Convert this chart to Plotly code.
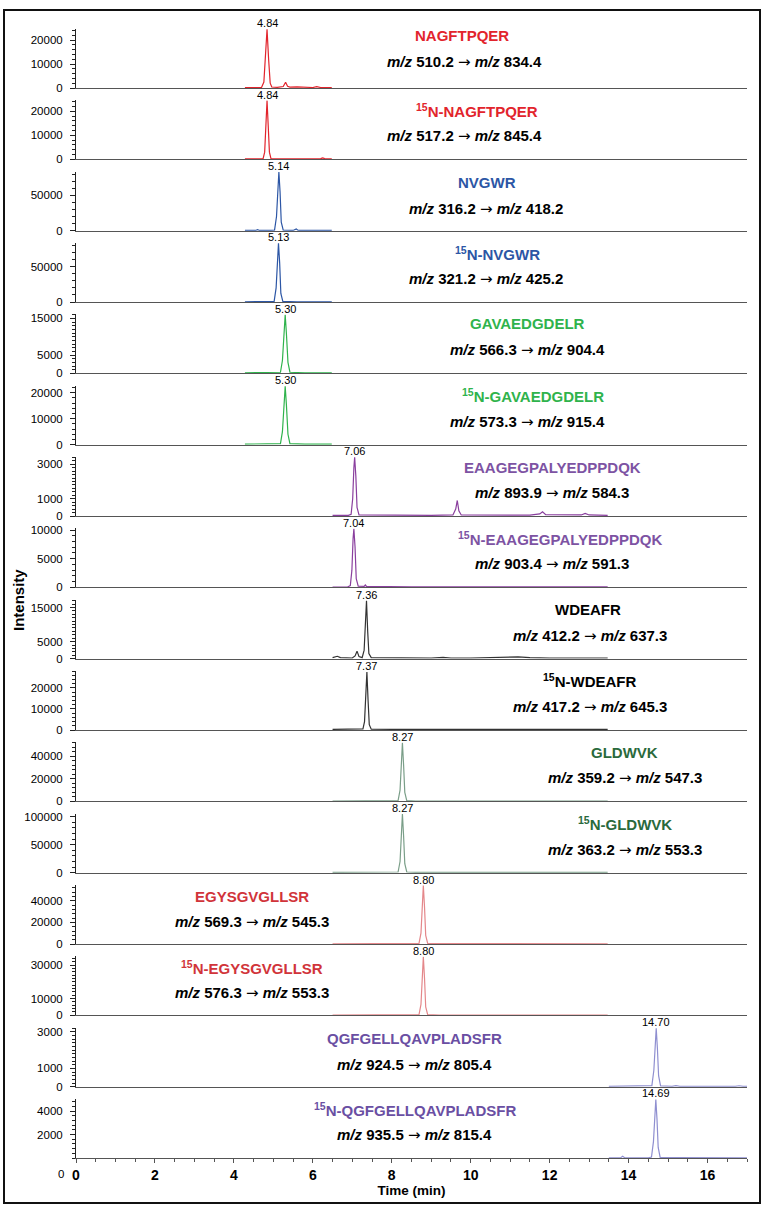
import plotly.graph_objects as go

# ---------------- data ----------------
peptides = ["NAGFTPQER", "<sup>15</sup>N-NAGFTPQER", "NVGWR", "<sup>15</sup>N-NVGWR",
            "GAVAEDGDELR", "<sup>15</sup>N-GAVAEDGDELR", "EAAGEGPALYEDPPDQK",
            "<sup>15</sup>N-EAAGEGPALYEDPPDQK", "WDEAFR", "<sup>15</sup>N-WDEAFR",
            "GLDWVK", "<sup>15</sup>N-GLDWVK", "EGYSGVGLLSR", "<sup>15</sup>N-EGYSGVGLLSR",
            "QGFGELLQAVPLADSFR", "<sup>15</sup>N-QGFGELLQAVPLADSFR"]
precursor_mz = ["510.2", "517.2", "316.2", "321.2", "566.3", "573.3", "893.9", "903.4",
                "412.2", "417.2", "359.2", "363.2", "569.3", "576.3", "924.5", "935.5"]
product_mz = ["834.4", "845.4", "418.2", "425.2", "904.4", "915.4", "584.3", "591.3",
              "637.3", "645.3", "547.3", "553.3", "545.3", "553.3", "805.4", "815.4"]
peak_rt = [4.84, 4.84, 5.14, 5.13, 5.30, 5.30, 7.06, 7.04, 7.36, 7.37, 8.27, 8.27, 8.80, 8.80, 14.70, 14.69]
peak_height = [24500, 24500, 83000, 83000, 16000, 22500, 3400, 10200, 17000, 27500, 52000, 105000, 54000, 35000, 3200, 5000]

t01 = [4.28, 4.5, 4.70, 4.76, 4.80, 4.84, 4.88, 4.92, 4.96, 5.1, 5.25, 5.31, 5.36, 5.42, 5.6, 5.8, 6.0, 6.1, 6.2, 6.48]
i01 = [150, 150, 200, 2500, 14000, 24500, 12000, 2000, 400, 300, 600, 2400, 700, 400, 500, 300, 200, 600, 200, 150]
t02 = [4.28, 4.6, 4.74, 4.78, 4.81, 4.84, 4.87, 4.90, 4.94, 5.2, 5.6, 6.0, 6.2, 6.25, 6.3, 6.48]
i02 = [150, 150, 300, 3000, 15000, 24500, 14000, 3000, 300, 200, 200, 200, 300, 600, 300, 200]
t03 = [4.28, 4.55, 4.60, 4.65, 4.9, 5.03, 5.08, 5.11, 5.14, 5.17, 5.20, 5.25, 5.5, 5.58, 5.62, 5.66, 6.0, 6.48]
i03 = [300, 300, 1500, 300, 300, 800, 20000, 60000, 83000, 55000, 12000, 800, 300, 2500, 600, 300, 300, 300]
t04 = [4.28, 4.9, 5.02, 5.07, 5.10, 5.13, 5.16, 5.19, 5.24, 5.6, 6.48]
i04 = [300, 300, 800, 20000, 60000, 83000, 55000, 12000, 800, 300, 300]
t05 = [4.28, 5.0, 5.18, 5.23, 5.27, 5.30, 5.33, 5.37, 5.42, 5.8, 6.48]
i05 = [150, 150, 300, 3500, 12000, 16000, 11000, 3000, 300, 150, 150]
t06 = [4.28, 5.0, 5.18, 5.23, 5.27, 5.30, 5.33, 5.37, 5.42, 5.8, 6.48]
i06 = [200, 200, 400, 5000, 17000, 22500, 15500, 4000, 400, 200, 200]
t07 = [6.5, 6.9, 6.97, 7.01, 7.04, 7.06, 7.09, 7.12, 7.17, 8.0, 9.0, 9.55, 9.62, 9.66, 9.70, 9.76,
       10.5, 11.5, 11.75, 11.82, 11.9, 12.5, 12.8, 12.9, 13.0, 13.47]
i07 = [40, 40, 100, 1000, 2800, 3400, 2300, 500, 60, 40, 40, 60, 400, 900, 300, 60,
       40, 50, 120, 250, 80, 50, 60, 150, 60, 40]
t08 = [6.5, 6.88, 6.95, 6.99, 7.02, 7.04, 7.07, 7.10, 7.15, 7.3, 7.33, 7.36, 8.5, 10.5, 11.7, 11.8, 11.9, 13.47]
i08 = [60, 60, 300, 3000, 8500, 10200, 7000, 1500, 200, 150, 400, 150, 100, 100, 100, 180, 100, 80]
t09 = [6.5, 6.55, 6.62, 6.7, 7.0, 7.07, 7.12, 7.17, 7.25, 7.30, 7.33, 7.36, 7.39, 7.42, 7.48,
       8.0, 9.0, 9.3, 9.5, 10.0, 11.0, 11.2, 11.5, 12.0, 13.47]
i09 = [300, 400, 700, 300, 200, 800, 2200, 600, 300, 2500, 11000, 17000, 8000, 1500, 300,
       200, 200, 400, 200, 200, 300, 500, 300, 200, 200]
t10 = [6.5, 7.0, 7.2, 7.27, 7.31, 7.34, 7.37, 7.40, 7.43, 7.48, 8.0, 13.47]
i10 = [300, 300, 300, 500, 4000, 16000, 27500, 14000, 2500, 400, 300, 300]
t11 = [6.5, 8.0, 8.16, 8.21, 8.24, 8.27, 8.30, 8.33, 8.38, 8.6, 13.47]
i11 = [200, 200, 600, 10000, 36000, 52000, 32000, 8000, 600, 300, 200]
t12 = [6.5, 8.0, 8.16, 8.21, 8.24, 8.27, 8.30, 8.33, 8.38, 8.6, 13.47]
i12 = [400, 400, 1200, 20000, 72000, 105000, 65000, 16000, 1200, 500, 400]
t13 = [6.5, 8.5, 8.69, 8.74, 8.77, 8.80, 8.83, 8.86, 8.91, 9.2, 13.47]
i13 = [200, 200, 600, 10000, 38000, 54000, 34000, 8000, 600, 300, 200]
t14 = [6.5, 8.5, 8.69, 8.74, 8.77, 8.80, 8.83, 8.86, 8.91, 9.2, 13.47]
i14 = [150, 150, 400, 6500, 25000, 35000, 22000, 5000, 400, 200, 150]
t15 = [13.5, 13.85, 13.9, 13.95, 14.5, 14.59, 14.64, 14.67, 14.70, 14.73, 14.76, 14.81, 15.1, 15.2, 15.3,
       16.7, 16.8, 16.9, 17.0]
i15 = [20, 20, 60, 20, 20, 60, 900, 2400, 3200, 2100, 600, 40, 20, 60, 20, 20, 50, 20, 20]
t16 = [13.5, 13.8, 13.85, 13.9, 14.5, 14.58, 14.63, 14.66, 14.69, 14.72, 14.75, 14.80, 15.2, 17.0]
i16 = [20, 30, 150, 30, 20, 80, 1400, 3800, 5000, 3300, 900, 60, 30, 20]

times = [t01, t02, t03, t04, t05, t06, t07, t08, t09, t10, t11, t12, t13, t14, t15, t16]
intensities = [i01, i02, i03, i04, i05, i06, i07, i08, i09, i10, i11, i12, i13, i14, i15, i16]

# axis tick values
x_ticks = [0, 2, 4, 6, 8, 10, 12, 14, 16]
y_max = [24600, 24600, 83500, 83500, 16100, 22700, 3420, 10300, 17300, 28000, 52500, 105500, 54500, 35200, 3230, 5040]
y_ticks = [[0, 10000, 20000], [0, 10000, 20000], [0, 50000], [0, 50000], [0, 5000, 15000],
           [0, 10000, 20000], [0, 1000, 3000], [0, 5000, 10000], [0, 5000, 15000], [0, 10000, 20000],
           [0, 20000, 40000], [0, 50000, 100000], [0, 20000, 40000], [0, 10000, 30000],
           [0, 1000, 3000], [2000, 4000]]
y_minor = [2000, 2000, 10000, 10000, 1000, 2000, 200, 1000, 1000, 2000, 4000, 10000, 4000, 2000, 200, 400]

# ---------------- styles ----------------
trace_colors = ["#e2242c", "#e2242c", "#2c56a5", "#2c56a5", "#2fb34c", "#2fb34c", "#8a3f9e", "#8a3f9e",
                "#333333", "#333333", "#7a9e88", "#7a9e88", "#e4878a", "#e4878a", "#8f8fd0", "#8f8fd0"]
label_colors = ["#e2242c", "#e2242c", "#2c56a5", "#2c56a5", "#2fb34c", "#2fb34c", "#7d53a3", "#7d53a3",
                "#000000", "#000000", "#2a6a3c", "#2a6a3c", "#d1343a", "#d1343a", "#6a4fa3", "#6a4fa3"]
name_x = [9.77, 10.15, 10.41, 10.68, 11.44, 11.57, 12.08, 12.25, 12.96, 13.01, 13.90, 13.92, 4.46, 4.46, 8.58, 8.60]
mz_x = [9.85, 9.85, 10.38, 10.40, 11.44, 11.44, 12.05, 12.05, 13.01, 13.01, 13.90, 13.90, 4.46, 4.46, 8.58, 8.58]
name_off = [52, 49, 48, 49, 50, 49, 49, 49, 49, 50, 49, 49, 48, 48, 48, 49]
mz_off = [26, 23, 22, 23, 23, 23, 23, 23, 23, 23, 23, 23, 22, 22, 22, 23]

W, H = 769, 1209
PL, PR, PT, PB = 76, 747, 29, 1158
PH = PB - PT
FONT = "Liberation Sans, Arial, sans-serif"
ARROW = '<span style="font-family:DejaVu Sans;font-weight:normal">→</span>'

def px_x(px):
    return (px - PL) / (PR - PL)

def px_y(py):
    return (PB - py) / PH

n = len(peptides)
fig = go.Figure()
annotations = []
layout = {}
for k in range(n):
    idx = "" if k == 0 else str(k + 1)
    base = 88 + k * (1070 / 15)
    top = base - 59
    fig.add_trace(go.Scatter(x=times[k], y=intensities[k], mode="lines",
                             line=dict(color=trace_colors[k], width=1.2),
                             xaxis="x" + idx, yaxis="y" + idx,
                             showlegend=False, hoverinfo="x+y"))
    last = (k == n - 1)
    xa = dict(
        domain=[0, 1], anchor="y" + idx, range=[0, 17],
        showline=True, linecolor="#555555", linewidth=1,
        showgrid=False, zeroline=False,
        showticklabels=last,
        ticks="outside" if last else "", ticklen=4, tickcolor="#555555",
        tickfont=dict(family=FONT, size=14, color="#000000", weight="bold"),
    )
    if k > 0:
        xa["matches"] = "x"
    if last:
        xa["tickvals"] = x_ticks
        xa["minor"] = dict(dtick=0.5, ticks="outside", ticklen=3, tickcolor="#555555")
        xa["title"] = dict(text="<b>Time (min)</b>", font=dict(family=FONT, size=13.5, color="#000"), standoff=0)
    layout["xaxis" + idx] = xa
    layout["yaxis" + idx] = dict(
        domain=[px_y(base), px_y(top)], anchor="x" + idx, range=[0, y_max[k]],
        showline=True, linecolor="#222222", linewidth=1,
        showgrid=False, zeroline=False,
        ticks="outside", ticklen=5, tickcolor="#222222",
        tickvals=y_ticks[k], tickformat="d",
        ticklabelstandoff=5,
        minor=dict(dtick=y_minor[k], ticks="outside", ticklen=3, tickcolor="#222222"),
        tickfont=dict(family=FONT, size=11.5, color="#000000"),
    )
    # peak retention time label
    annotations.append(dict(x=peak_rt[k], y=peak_height[k], xref="x" + idx, yref="y" + idx,
                            text=f"{peak_rt[k]:.2f}", showarrow=False, yanchor="bottom", yshift=-2,
                            font=dict(family=FONT, size=11, color="#000000")))
    # peptide name
    annotations.append(dict(x=name_x[k], y=name_off[k] / 59, xref="x" + idx, yref="y" + idx + " domain",
                            text=f"<b>{peptides[k]}</b>", showarrow=False, yanchor="middle",
                            font=dict(family=FONT, size=15, color=label_colors[k])))
    # transition
    annotations.append(dict(x=mz_x[k], y=mz_off[k] / 59, xref="x" + idx, yref="y" + idx + " domain",
                            text=f"<b><i>m/z</i> {precursor_mz[k]} </b>{ARROW}<b> <i>m/z</i> {product_mz[k]}</b>",
                            showarrow=False, yanchor="middle",
                            font=dict(family=FONT, size=15, color="#000000")))

# zero label of bottom panel (sits below the axis in the original)
annotations.append(dict(x=px_x(66), y=px_y(1174), xref="paper", yref="paper", text="0",
                        showarrow=False, xanchor="right", yanchor="middle",
                        font=dict(family=FONT, size=11.5, color="#000000")))
# y title
annotations.append(dict(x=px_x(18), y=px_y(600), xref="paper", yref="paper", text="<b>Intensity</b>",
                        textangle=-90, showarrow=False, xanchor="center", yanchor="middle",
                        font=dict(family=FONT, size=15, color="#000000")))

# outer frame drawn as a path in paper coordinates
bx0, bx1, by0, by1 = px_x(4), px_x(760), px_y(1203), px_y(10)
frame = dict(color="#111111", width=2)
shapes = [
    dict(type="path", xref="paper", yref="paper",
         path=f"M{bx0},{by0} L{bx0},{by1} L{bx1},{by1} L{bx1},{by0} Z", line=frame),
]

fig.update_layout(
    width=W, height=H,
    margin=dict(l=PL, r=W - PR, t=PT, b=H - PB, pad=0),
    paper_bgcolor="white", plot_bgcolor="white",
    annotations=annotations,
    shapes=shapes,
    **layout,
)
fig.write_html("out.html", config={"displayModeBar": False},
               post_script="document.body.style.margin='0';")
